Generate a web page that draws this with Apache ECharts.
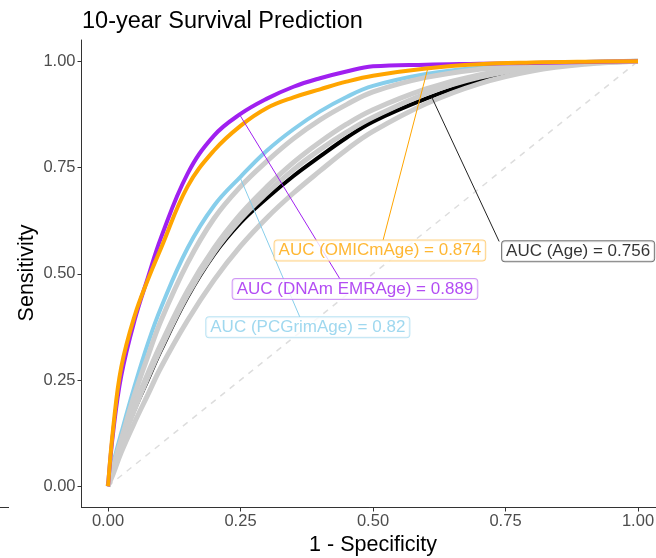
<!DOCTYPE html>
<html><head><meta charset="utf-8">
<script src="https://cdn.jsdelivr.net/npm/echarts@6/dist/echarts.min.js"></script>
<style>html,body{margin:0;padding:0;background:#fff}#c{width:656px;height:558px}</style>
</head><body><div id="c"></div>
<script>
// 1 - specificity grid at which the curves were read
const fpr = [0,0.01,0.025,0.05,0.075,0.1,0.15,0.2,0.25,0.3,0.35,0.4,0.45,0.5,0.6,0.7,0.8,0.9,1];
// sensitivity values
const dnamEMRAge = [0,0.13,0.26,0.39,0.49,0.585,0.735,0.825,0.876,0.912,0.940,0.960,0.976,0.988,0.992,0.994,0.996,0.998,1];
const omicmAge   = [0,0.14,0.28,0.40,0.485,0.56,0.705,0.79,0.848,0.89,0.915,0.934,0.952,0.966,0.983,0.993,0.997,0.999,1];
const pcGrimAge  = [0,0.055,0.125,0.235,0.335,0.42,0.56,0.66,0.728,0.79,0.84,0.882,0.916,0.942,0.97,0.985,0.993,0.998,1];
const ageOnly    = [0,0.04,0.10,0.18,0.25,0.32,0.445,0.545,0.62,0.678,0.73,0.776,0.82,0.858,0.912,0.955,0.983,0.995,1];
const grey1      = [0,0.045,0.11,0.215,0.305,0.39,0.525,0.63,0.705,0.765,0.818,0.862,0.898,0.928,0.962,0.981,0.991,0.997,1];
const grey2      = [0,0.045,0.105,0.19,0.265,0.335,0.46,0.56,0.64,0.705,0.762,0.81,0.852,0.886,0.935,0.968,0.986,0.996,1];
const grey3      = [0,0.04,0.10,0.18,0.255,0.325,0.45,0.55,0.628,0.69,0.745,0.792,0.833,0.868,0.924,0.962,0.984,0.995,1];
const grey4      = [0,0.03,0.08,0.15,0.215,0.28,0.39,0.485,0.565,0.632,0.69,0.742,0.792,0.835,0.9,0.947,0.977,0.993,1];
const diagonal   = [[0,0],[1,1]];
// annotation labels
const labelTexts = ['AUC (OMICmAge) = 0.874','AUC (DNAm EMRAge) = 0.889','AUC (PCGrimAge) = 0.82','AUC (Age) = 0.756'];
const labelPos   = [[0.513,0.555],[0.466,0.464],[0.377,0.374],[0.887,0.553]];
const pointerFrom= [[0.604,0.986],[0.249,0.873],[0.249,0.727],[0.611,0.915]];
const pointerTo  = [[0.519,0.579],[0.438,0.487],[0.362,0.398],[0.738,0.576]];
const tickValues = [0,0.25,0.5,0.75,1];
const yTitle = 'Sensitivity';

const C = {omic:'#FFA500', emr:'#A020F0', pc:'#87CEEB', age:'#000000', grey:'#cccccc'};
const labelColors = [C.omic, C.emr, C.pc, '#000000'];
const labelBorders = ['#ffc766','#c47ef2','#a9dcf0','#555555'];
const pointerColors = [C.omic, C.emr, C.pc, '#222222'];

function pairs(ys){ return fpr.map((x,i)=>[x,ys[i]]); }
function curve(ys,color,width,z){
  return {type:'line', data:pairs(ys), showSymbol:false, symbol:'none', smooth:0.4,
    lineStyle:{color:color,width:width}, z:z, silent:true, animation:false};
}
const series = [
  {type:'line', data:diagonal, showSymbol:false, symbol:'none', lineStyle:{color:'#dddddd',width:1.5,type:[6,6]}, z:1, animation:false},
  curve(pcGrimAge,C.pc,4,2),
  curve(ageOnly,C.age,4,2),
  curve(grey1,C.grey,5,3),
  curve(grey2,C.grey,5,3),
  curve(grey3,C.grey,5,3),
  curve(grey4,C.grey,5,3),
  curve(dnamEMRAge,C.emr,4,4),
  curve(omicmAge,C.omic,4,5),
];
pointerFrom.forEach((p,i)=>{
  series.push({type:'line', data:[p,pointerTo[i]], showSymbol:false, symbol:'none',
    lineStyle:{color:pointerColors[i],width:1}, z:6, animation:false});
});
labelTexts.forEach((t,i)=>{
  series.push({type:'scatter', data:[labelPos[i]], symbolSize:0, z:7, animation:false,
    label:{show:true, position:'inside', formatter:t, color:labelColors[i], fontSize:17,
      fontFamily:'Liberation Sans', backgroundColor:'#fff', borderColor:labelBorders[i], borderWidth:1,
      borderRadius:3, padding:[2,4,1,4]}});
});

const chart = echarts.init(document.getElementById('c'), null, {renderer:'canvas'});
chart.setOption({
  animation:false,
  textStyle:{fontFamily:'Liberation Sans'},
  title:{text:'10-year Survival Prediction', left:77, top:5,
    textStyle:{fontSize:23.5, fontWeight:'normal', color:'#000', fontFamily:'Liberation Sans'}},
  grid:{left:81.5, top:40, width:583, height:467.5, containLabel:false, outerBoundsMode:'none'},
  xAxis:{type:'value', min:-0.05, max:1.05,
    axisLine:{show:true, onZero:false, lineStyle:{color:'#333', width:1}},
    axisTick:{show:true, customValues:tickValues, length:4, lineStyle:{color:'#333'}},
    axisLabel:{customValues:tickValues, formatter:v=>v.toFixed(2), color:'#4d4d4d', fontSize:16.5, margin:5},
    splitLine:{show:false},
    name:'1 - Specificity', nameLocation:'middle', nameGap:23,
    nameTextStyle:{fontSize:21.5, color:'#000'}},
  yAxis:{type:'value', min:-0.05, max:1.05,
    axisLine:{show:true, onZero:false, lineStyle:{color:'#333', width:1}},
    axisTick:{show:true, customValues:tickValues, length:4, lineStyle:{color:'#333'}},
    axisLabel:{customValues:tickValues, formatter:v=>v.toFixed(2), color:'#4d4d4d', fontSize:16.5, margin:6},
    splitLine:{show:false}},
  graphic:[
    {type:'line', shape:{x1:0,y1:507.5,x2:9,y2:507.5}, style:{stroke:'#333',lineWidth:1}},
    {type:'text', x:27, y:273, rotation:Math.PI/2,
      style:{text:yTitle, fill:'#000', fontSize:21.5, fontFamily:'Liberation Sans', align:'center', verticalAlign:'middle'}}
  ],
  series:series
});
</script>
</body></html>
